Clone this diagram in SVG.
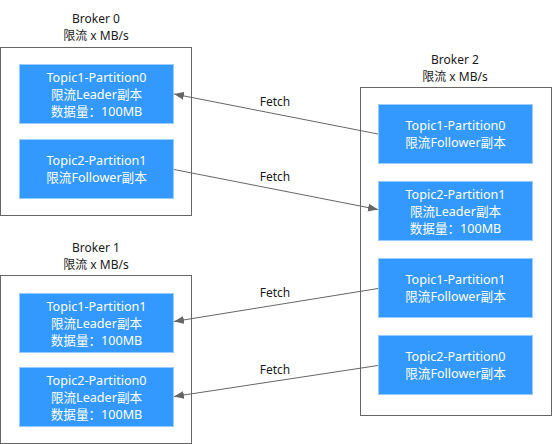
<svg xmlns="http://www.w3.org/2000/svg" width="552" height="444" viewBox="0 0 552 444">
<style>
text{font-family:"Noto Sans","Noto Sans CJK SC",sans-serif;font-size:12px;text-anchor:middle;dominant-baseline:central}
.lbl{fill:#1a1a1a}
.nt{fill:#ffffff;font-size:12.6px}
.broker{fill:#ffffff;stroke:#666666;stroke-width:1}
.node{fill:#3399ff;stroke:#99ccff;stroke-width:1}
.conn{fill:none;stroke:#666666;stroke-width:1}
</style>
<defs>
<marker id="arr" viewBox="0 0 10 8" refX="10" refY="4" markerWidth="10" markerHeight="8" markerUnits="userSpaceOnUse" orient="auto">
<path d="M0,0 L10,4 L0,8 Z" fill="#666666"/>
</marker>
</defs>
<rect width="552" height="444" fill="#ffffff"/>
<g id="broker0">
<rect class="broker" x="0.5" y="47.5" width="191" height="168"/>
<text class="lbl" x="96" y="18">Broker 0</text>
<text class="lbl" x="96" y="35">限流 x MB/s</text>
</g>
<g id="broker1">
<rect class="broker" x="0.5" y="275.5" width="191" height="168"/>
<text class="lbl" x="96" y="247">Broker 1</text>
<text class="lbl" x="96" y="264">限流 x MB/s</text>
</g>
<g id="broker2">
<rect class="broker" x="360.5" y="87.5" width="191" height="328"/>
<text class="lbl" x="455" y="59">Broker 2</text>
<text class="lbl" x="455" y="76">限流 x MB/s</text>
</g>
<g id="b0p0">
<rect class="node" x="19.5" y="64.5" width="154" height="59"/>
<text class="nt" x="96.5" y="77">Topic1-Partition0</text>
<text class="nt" x="96.5" y="94">限流Leader副本</text>
<text class="nt" x="96.5" y="111">数据量：100MB</text>
</g>
<g id="b0p1">
<rect class="node" x="19.5" y="139.5" width="154" height="59"/>
<text class="nt" x="96.5" y="160.5">Topic2-Partition1</text>
<text class="nt" x="96.5" y="177.5">限流Follower副本</text>
</g>
<g id="b1p0">
<rect class="node" x="19.5" y="293.5" width="154" height="59"/>
<text class="nt" x="96.5" y="306">Topic1-Partition1</text>
<text class="nt" x="96.5" y="323">限流Leader副本</text>
<text class="nt" x="96.5" y="340">数据量：100MB</text>
</g>
<g id="b1p1">
<rect class="node" x="19.5" y="367.5" width="154" height="59"/>
<text class="nt" x="96.5" y="380">Topic2-Partition0</text>
<text class="nt" x="96.5" y="397">限流Leader副本</text>
<text class="nt" x="96.5" y="414">数据量：100MB</text>
</g>
<g id="b2p0">
<rect class="node" x="378.5" y="104.5" width="154" height="59"/>
<text class="nt" x="455.5" y="125.5">Topic1-Partition0</text>
<text class="nt" x="455.5" y="142.5">限流Follower副本</text>
</g>
<g id="b2p1">
<rect class="node" x="378.5" y="181.5" width="154" height="59"/>
<text class="nt" x="455.5" y="194">Topic2-Partition1</text>
<text class="nt" x="455.5" y="211">限流Leader副本</text>
<text class="nt" x="455.5" y="228">数据量：100MB</text>
</g>
<g id="b2p2">
<rect class="node" x="378.5" y="258.5" width="154" height="59"/>
<text class="nt" x="455.5" y="279.5">Topic1-Partition1</text>
<text class="nt" x="455.5" y="296.5">限流Follower副本</text>
</g>
<g id="b2p3">
<rect class="node" x="378.5" y="335.5" width="154" height="59"/>
<text class="nt" x="455.5" y="356.5">Topic2-Partition0</text>
<text class="nt" x="455.5" y="373.5">限流Follower副本</text>
</g>
<g id="connectors">
<line class="conn" x1="378" y1="134" x2="174" y2="94" marker-end="url(#arr)"/>
<line class="conn" x1="174" y1="169.5" x2="378" y2="209.5" marker-end="url(#arr)"/>
<line class="conn" x1="378" y1="288.5" x2="174" y2="321.5" marker-end="url(#arr)"/>
<line class="conn" x1="378" y1="365.5" x2="174" y2="396.5" marker-end="url(#arr)"/>
<text class="lbl" x="275" y="101.5">Fetch</text>
<text class="lbl" x="275" y="176.5">Fetch</text>
<text class="lbl" x="275" y="292.5">Fetch</text>
<text class="lbl" x="275" y="369">Fetch</text>
</g>
</svg>
